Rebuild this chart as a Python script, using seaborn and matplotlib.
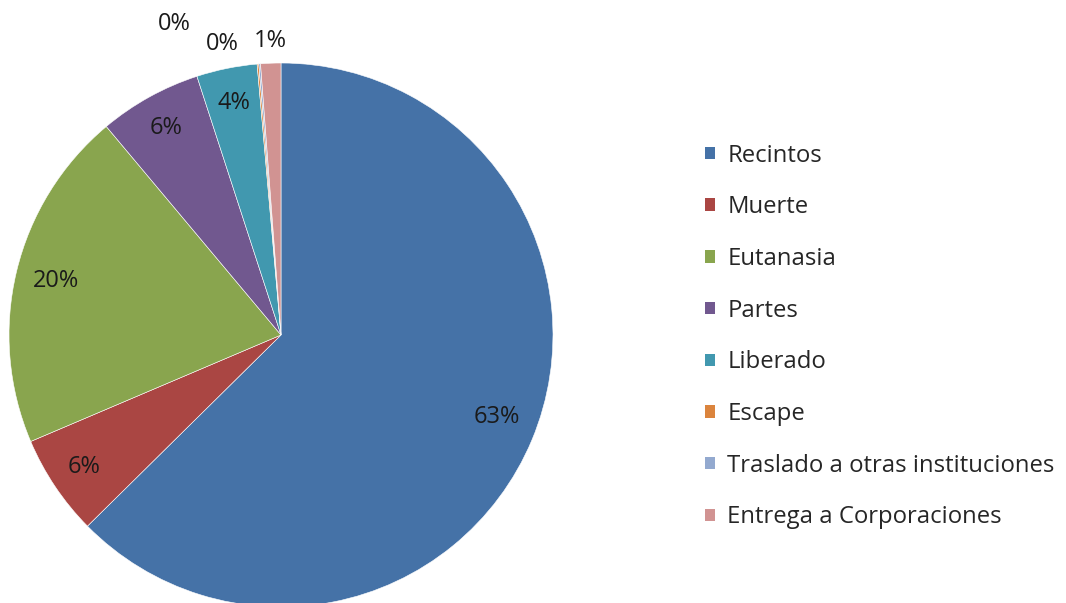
import numpy as np
import matplotlib
matplotlib.use("Agg")
import matplotlib.pyplot as plt
import seaborn as sns
from matplotlib.patches import Patch

# data (percent of total)
categorias = ['Recintos', 'Muerte', 'Eutanasia', 'Partes', 'Liberado',
              'Escape', 'Traslado a otras instituciones', 'Entrega a Corporaciones']
valores = [62.6, 6.0, 20.3, 6.1, 3.6, 0.1, 0.1, 1.2]
etiquetas = ['63%', '6%', '20%', '6%', '4%', '0%', '0%', '1%']
colores = ['#4572A7', '#AA4643', '#89A54E', '#71588F', '#4198AF',
           '#DB843D', '#93A9CF', '#D19392']

# label placement: radius (fraction of pie radius) and angle nudge (deg)
lab_r = [0.85, 0.87, 0.85, 0.87, 0.87, 1.21, 1.09, 1.08]
lab_da = [2, 0, 0, 0, 0, 14, 7, 0]

sns.set_theme(style="white")
plt.rcParams['font.family'] = ['Open Sans', 'DejaVu Sans']

fig = plt.figure(figsize=(10.66, 6.03), dpi=100)
ax = fig.add_axes([9 / 1066, -4 / 603, 544 / 1066, 544 / 603])

pal = sns.color_palette(colores)
wedges, _ = ax.pie(valores, colors=pal, startangle=90, counterclock=False,
                   radius=1, wedgeprops=dict(linewidth=0.4, edgecolor='white'))
ax.set_xlim(-1, 1)
ax.set_ylim(-1, 1)
ax.set_aspect('equal')
ax.axis('off')

for w, lab, r, da in zip(wedges, etiquetas, lab_r, lab_da):
    ang = np.deg2rad((w.theta1 + w.theta2) / 2 + da)
    ax.text(r * np.cos(ang), r * np.sin(ang), lab, ha='center', va='center',
            fontsize=17, color='#1a1a1a', clip_on=False)

handles = [Patch(facecolor=c, edgecolor='none') for c in pal]
fig.legend(handles, categorias, loc='upper left',
           bbox_to_anchor=(683 / 1066, 1 - 122 / 603), frameon=False,
           fontsize=17.2, handlelength=0.42, handleheight=0.42,
           handletextpad=0.53, labelspacing=1.16)

fig.savefig('out.png', dpi=100)
